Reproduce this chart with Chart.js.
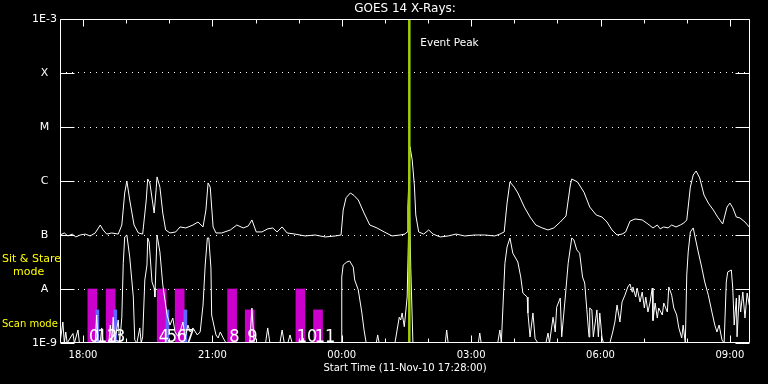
<!DOCTYPE html>
<html>
<head>
<meta charset="utf-8">
<script src="https://cdn.jsdelivr.net/npm/chart.js@4.4.1/dist/chart.umd.min.js"></script>
<style>
  html, body { margin: 0; padding: 0; background: #000; }
  canvas { display: block; }
</style>
</head>
<body>
<canvas id="goes" width="768" height="384"></canvas>
<script>
// time axis: minutes after 11-Nov-10 17:28:00
// 1-8 A channel (upper curve)
const longTime = [0, 6, 11, 17, 22, 28, 35, 42, 49, 56, 60, 65, 72, 81, 86, 90, 93, 97, 103, 109,
  115, 120, 122, 125, 131, 134, 135, 139, 143, 147, 153, 161, 167, 175, 185, 192, 199, 203, 206, 209,
  213, 217, 225, 237, 246, 255, 262, 267, 273, 281, 289, 296, 302, 309, 316, 327, 341, 355, 369, 383,
  391, 394, 398, 404, 409, 415, 423, 431, 441, 451, 462, 473, 480, 483, 484, 487, 490, 493, 495, 499,
  506, 513, 519, 529, 540, 551, 563, 577, 591, 605, 612, 618, 622, 626, 632, 637, 646, 654, 662, 671,
  679, 687, 696, 704, 710, 712, 720, 729, 737, 746, 754, 761, 768, 775, 782, 787, 793, 800, 810, 818,
  825, 831, 835, 840, 846, 851, 857, 863, 868, 872, 877, 881, 885, 890, 896, 902, 909, 915, 922, 928,
  932, 936, 941, 946, 953, 960];
const longFlux = [1.0e-7, 1.09e-7, 9.6e-8, 1.04e-7, 9.2e-8, 1.0e-7, 1.04e-7, 9.6e-8, 1.09e-7, 1.53e-7,
  1.24e-7, 1.04e-7, 1.09e-7, 1.04e-7, 1.53e-7, 6.0e-7, 1.0e-6, 4.45e-7, 1.53e-7, 1.09e-7,
  1.04e-7, 4.45e-7, 1.09e-6, 9.2e-7, 2.55e-7, 7.7e-7, 1.19e-6, 7.7e-7, 2.55e-7, 1.24e-7,
  1.09e-7, 1.14e-7, 1.41e-7, 1.35e-7, 1.53e-7, 1.74e-7, 1.41e-7, 2.9e-7, 9.2e-7, 7.7e-7,
  1.41e-7, 1.09e-7, 1.09e-7, 1.24e-7, 1.53e-7, 1.35e-7, 1.47e-7, 1.9e-7, 1.14e-7, 1.14e-7,
  1.3e-7, 1.35e-7, 1.14e-7, 1.41e-7, 1.09e-7, 1.04e-7, 9.6e-8, 1.0e-7, 9.2e-8, 9.6e-8,
  1.0e-7, 2.9e-7, 4.9e-7, 6.0e-7, 5.4e-7, 4.45e-7, 2.55e-7, 1.53e-7, 1.35e-7, 1.14e-7,
  9.6e-8, 1.0e-7, 1.04e-7, 1.14e-7, 3.3e-7, 4.3e-6, 2.45e-6, 8.4e-7, 2.35e-7, 1.14e-7,
  1.04e-7, 1.24e-7, 1.04e-7, 9.2e-8, 9.6e-8, 1.04e-7, 9.6e-8, 1.0e-7, 1.0e-7, 9.6e-8,
  1.04e-7, 1.14e-7, 3.9e-7, 9.6e-7, 7.7e-7, 6.0e-7, 3.3e-7, 2.15e-7, 1.53e-7, 1.35e-7,
  1.24e-7, 1.35e-7, 1.74e-7, 2.25e-7, 8.4e-7, 1.09e-6, 9.6e-7, 6.2e-7, 3.3e-7, 2.35e-7,
  2.15e-7, 1.74e-7, 1.24e-7, 1.0e-7, 1.04e-7, 1.14e-7, 1.8e-7, 1.98e-7, 1.9e-7, 1.6e-7,
  1.35e-7, 1.53e-7, 1.3e-7, 1.41e-7, 1.35e-7, 1.53e-7, 1.41e-7, 1.53e-7, 1.67e-7, 1.9e-7,
  7.7e-7, 1.29e-6, 1.53e-6, 1.14e-6, 5.5e-7, 3.9e-7, 2.9e-7, 2.15e-7, 1.6e-7, 3.3e-7,
  3.9e-7, 3.2e-7, 2.15e-7, 2.07e-7, 1.74e-7, 1.35e-7];

// 0.5-4 A channel (lower curve)
const shortTime = [0, 4, 6, 8, 10, 18, 20, 25, 27, 49, 51, 53, 56, 58, 60, 68, 70, 72, 74, 76,
  81, 83, 86, 88, 90, 93, 97, 102, 104, 107, 111, 113, 115, 118, 121, 122, 124, 128, 131, 132,
  135, 139, 143, 149, 153, 157, 160, 165, 171, 174, 178, 181, 185, 191, 195, 199, 202, 205, 207, 210,
  211, 214, 217, 220, 223, 227, 231, 264, 267, 270, 286, 289, 292, 306, 309, 312, 317, 320, 323, 336,
  338, 340, 391, 392, 394, 399, 403, 408, 410, 415, 420, 423, 426, 440, 442, 444, 466, 469, 472, 474,
  476, 479, 483, 486, 488, 491, 536, 538, 540, 582, 584, 586, 609, 612, 614, 619, 622, 626, 630, 637,
  641, 644, 650, 651, 654, 658, 661, 665, 676, 679, 681, 686, 689, 691, 696, 698, 703, 707, 712, 715,
  719, 723, 727, 730, 733, 736, 737, 740, 742, 747, 749, 751, 754, 756, 765, 769, 772, 775, 779, 782,
  786, 790, 793, 796, 797, 801, 803, 807, 810, 813, 815, 818, 821, 824, 825, 828, 831, 833, 838, 840,
  845, 847, 851, 854, 858, 861, 865, 867, 870, 872, 874, 877, 881, 883, 888, 893, 897, 902, 907, 911,
  914, 917, 921, 924, 927, 929, 934, 936, 938, 941, 942, 945, 947, 950, 953, 956, 959, 960];
const shortFlux = [1e-9, 2.45e-9, 1e-9, 1.6e-9, 1e-9, 1.5e-9, 1e-9, 1.74e-9, 1e-9, 1e-9,
  3.3e-9, 1e-9, 1e-9, 1.9e-9, 1e-9, 1e-9, 2.15e-9, 1e-9, 3.0e-9, 1e-9,
  2.67e-9, 1e-9, 3.0e-9, 3.0e-8, 9.2e-8, 1.0e-7, 3.9e-8, 7.1e-9, 1.14e-9, 1e-9,
  1.9e-9, 1e-9, 1.3e-9, 1.47e-8, 2.78e-8, 8.8e-8, 7.4e-8, 1.35e-8, 1.04e-8, 7.1e-9,
  1.0e-7, 4.85e-8, 1.19e-8, 3.3e-9, 2.15e-9, 2.9e-9, 1.6e-9, 1.3e-9, 2.45e-9, 1.2e-9,
  2.15e-9, 1.6e-9, 1.9e-9, 1.41e-9, 1.6e-9, 5.05e-9, 2.78e-8, 8.8e-8, 8.8e-8, 2.45e-8,
  3.3e-9, 2.15e-9, 1.41e-9, 1.24e-9, 1.6e-9, 1.24e-9, 1e-9, 1e-9, 4.45e-9, 1e-9,
  1e-9, 1.9e-9, 1e-9, 1e-9, 1.74e-9, 1e-9, 1e-9, 1.41e-9, 1e-9, 1e-9,
  1.24e-9, 1e-9, 1e-9, 1.67e-8, 2.78e-8, 3.16e-8, 3.3e-8, 2.55e-8, 1.47e-8, 9.6e-9,
  3.6e-9, 1.74e-9, 1e-9, 1e-9, 1.41e-9, 1e-9, 1e-9, 1.74e-9, 3.0e-9, 2.67e-9,
  3.6e-9, 2.0e-9, 7.1e-9, 4.8e-7, 2.5e-8, 1e-9, 1e-9, 1.74e-9, 1e-9, 1e-9,
  1.53e-9, 1e-9, 1e-9, 1.74e-9, 1e-9, 3.0e-8, 6.0e-8, 8.8e-8, 4.6e-8, 3.16e-8,
  1.67e-8, 8.4e-9, 7.1e-9, 3.6e-9, 1.29e-9, 3.6e-9, 1.2e-9, 1e-9, 1e-9, 1.53e-9,
  1e-9, 3.0e-9, 1.6e-9, 4.6e-9, 6.8e-9, 1.3e-9, 7.1e-9, 3.0e-8, 8.8e-8, 8.1e-8,
  5.3e-8, 4.6e-8, 1.67e-8, 1.29e-8, 4.1e-9, 1.29e-9, 4.45e-9, 4.1e-9, 1.3e-9, 4.1e-9,
  1.3e-9, 3.6e-9, 1.29e-9, 1e-9, 1e-9, 1.6e-9, 2.45e-9, 5.05e-9, 2.45e-9, 5.75e-9,
  7.7e-9, 1.09e-8, 1.24e-8, 8.8e-9, 1.09e-8, 7.1e-9, 1.04e-8, 5.75e-9, 8.8e-9, 4.45e-9,
  7.1e-9, 3.75e-9, 5.75e-9, 1.04e-8, 2.6e-9, 5.5e-9, 2.9e-9, 4.45e-9, 3.3e-9, 5.5e-9,
  3.75e-9, 1.09e-8, 7.7e-9, 4.45e-9, 3.3e-9, 1.9e-9, 1.24e-9, 2.15e-9, 1e-9, 1.82e-8,
  4.85e-8, 1.14e-7, 1.35e-7, 1.0e-7, 4.85e-8, 2.45e-8, 1.35e-8, 7.7e-9, 3.75e-9, 2.15e-9,
  1.6e-9, 2.15e-9, 1.14e-9, 1e-9, 1.35e-8, 2.07e-8, 2.25e-8, 1.04e-8, 2.15e-9, 6.8e-9,
  1.3e-9, 7.7e-9, 3.75e-9, 8.8e-9, 2.9e-9, 8.4e-9, 5.05e-9, 5.5e-9];

// observation blocks (numbered 0..11)
const obsLabels = ['0', '1', '2', '3', '4', '5', '6', '7', '8', '9', '10', '11'];
const obsStart = [39, 50, 64, 75, 136, 147, 161, 172, 234, 259, 328, 353];
const obsEnd = [51, 54, 77, 79, 147, 152, 172, 177, 245, 269, 341, 365];
const obsTop = [1e-8, 4.1e-9, 1e-8, 4.1e-9, 1e-8, 4.1e-9, 1e-8, 4.1e-9, 1e-8, 4.1e-9, 1e-8, 4.1e-9];
const obsKind = ['a', 'b', 'a', 'b', 'a', 'b', 'a', 'b', 'a', 'a', 'a', 'a'];

const eventPeak = 486;

const yTicks = [1e-9, 1e-8, 1e-7, 1e-6, 1e-5, 1e-4, 1e-3];
const yLabels = ['1E-9', 'A', 'B', 'C', 'M', 'X', '1E-3'];
const xTicks = [32, 212, 392, 572, 752, 932];
const xLabels = ['18:00', '21:00', '00:00', '03:00', '06:00', '09:00'];
const hourTicks = [32, 92, 152, 212, 272, 332, 392, 452, 512, 572, 632, 692, 752, 812, 872, 932];

Chart.defaults.font.family = '"DejaVu Sans", sans-serif';

function pts(t, v) {
  return t.map((x, i) => ({ x: x, y: v[i] }));
}

function bars(kind) {
  const out = [];
  obsStart.forEach((s, i) => {
    if (obsKind[i] === kind) out.push({ x: (s + obsEnd[i]) / 2, y: [1e-9, obsTop[i]] });
  });
  return out;
}

const overlay = {
  id: 'overlay',
  beforeDraw(chart) {
    const ctx = chart.ctx;
    ctx.save();
    ctx.fillStyle = '#000';
    ctx.fillRect(0, 0, chart.width, chart.height);
    ctx.restore();
  },
  afterDatasetsDraw(chart) {
    const { ctx, chartArea: a, scales: { x, y } } = chart;
    const L = Math.round(a.left) + 0.5, R = Math.round(a.right) - 0.5;
    const T = Math.round(a.top) + 0.5, B = Math.round(a.bottom) - 0.5;
    ctx.save();
    ctx.strokeStyle = '#fff';
    ctx.lineWidth = 1;
    ctx.beginPath();
    ctx.rect(L, T, R - L, B - T);
    // decade ticks on both sides
    yTicks.forEach(v => {
      const py = Math.round(y.getPixelForValue(v)) + 0.5;
      ctx.moveTo(L, py); ctx.lineTo(L + 14, py);
      ctx.moveTo(R, py); ctx.lineTo(R - 14, py);
    });
    // hour ticks top and bottom
    hourTicks.forEach(t => {
      const px = Math.round(x.getPixelForValue(t)) + 0.5;
      const len = xTicks.includes(t) ? 7 : 4;
      ctx.moveTo(px, T); ctx.lineTo(px, T + len);
      ctx.moveTo(px, B); ctx.lineTo(px, B - len);
    });
    ctx.stroke();

    // observation numbers
    ctx.fillStyle = '#fff';
    ctx.font = '18px "Liberation Sans Narrow", "DejaVu Sans Condensed", sans-serif';
    ctx.textAlign = 'left';
    ctx.textBaseline = 'alphabetic';
    obsLabels.forEach((lab, i) => {
      ctx.fillText(lab, x.getPixelForValue(obsStart[i]) + 1, B - 1);
    });

    // titles
    ctx.textBaseline = 'middle';
    ctx.textAlign = 'center';
    ctx.font = '12px "DejaVu Sans"';
    ctx.fillText('GOES 14 X-Rays:', (a.left + a.right) / 2, 9);
    ctx.font = '10px "DejaVu Sans"';
    ctx.fillText('Start Time (11-Nov-10 17:28:00)', (a.left + a.right) / 2, 368);

    ctx.textAlign = 'left';
    ctx.font = '10.5px "DejaVu Sans"';
    ctx.fillText('Event Peak', x.getPixelForValue(eventPeak) + 11, 43);

    ctx.fillStyle = '#ffff00';
    ctx.font = '11px "DejaVu Sans"';
    ctx.fillText('Sit & Stare', 2, 259);
    ctx.fillText('mode', 13, 272);
    ctx.font = '10px "DejaVu Sans"';
    ctx.fillText('Scan mode', 2, 324);
    ctx.restore();
  }
};

new Chart(document.getElementById('goes'), {
  data: {
    datasets: [
      {
        type: 'line', label: 'Event Peak',
        data: [{ x: eventPeak, y: 1e-9 }, { x: eventPeak, y: 1e-3 }],
        borderColor: '#a0d000', borderWidth: 2.5, pointRadius: 0, order: 0
      },
      {
        type: 'line', label: '1-8 A',
        data: pts(longTime, longFlux),
        borderColor: '#ffffff', borderWidth: 1, pointRadius: 0, tension: 0, order: 1
      },
      {
        type: 'line', label: '0.5-4 A',
        data: pts(shortTime, shortFlux),
        borderColor: '#ffffff', borderWidth: 1, pointRadius: 0, tension: 0, order: 2
      },
      {
        type: 'bar', label: 'scan',
        data: bars('b'),
        backgroundColor: '#6464ff', barThickness: 3, stack: 'obs', order: 3
      },
      {
        type: 'bar', label: 'obs',
        data: bars('a'),
        backgroundColor: '#cc00cc', barThickness: 9, stack: 'obs', order: 4
      }
    ]
  },
  options: {
    responsive: false,
    animation: false,
    events: [],
    layout: { padding: { left: 0, right: 18, top: 19, bottom: 0 } },
    plugins: {
      legend: { display: false },
      tooltip: { enabled: false },
      title: { display: false }
    },
    scales: {
      x: {
        type: 'linear', position: 'bottom', min: 0, max: 960, offset: false,
        afterFit: s => { s.height = 41; },
        afterBuildTicks: s => { s.ticks = xTicks.map(v => ({ value: v })); },
        ticks: {
          callback: (v, i) => xLabels[i],
          color: '#fff', font: { size: 10 }, padding: 6, maxRotation: 0, autoSkip: false
        },
        grid: { display: false, drawTicks: false },
        border: { display: false }
      },
      y: {
        type: 'logarithmic', position: 'left', min: 1e-9, max: 1e-3,
        afterFit: s => { s.width = 60; },
        afterBuildTicks: s => { s.ticks = yTicks.map(v => ({ value: v })); },
        ticks: {
          callback: (v, i) => yLabels[i],
          color: '#fff', font: { size: 11 }, padding: 3, crossAlign: 'center', autoSkip: false
        },
        grid: {
          color: c => (c.index === 0 || c.index === yTicks.length - 1) ? 'rgba(0,0,0,0)' : '#fff',
          lineWidth: 1, drawTicks: false
        },
        border: { display: false, dash: [1, 5] }
      }
    }
  },
  plugins: [overlay]
});
</script>
</body>
</html>
